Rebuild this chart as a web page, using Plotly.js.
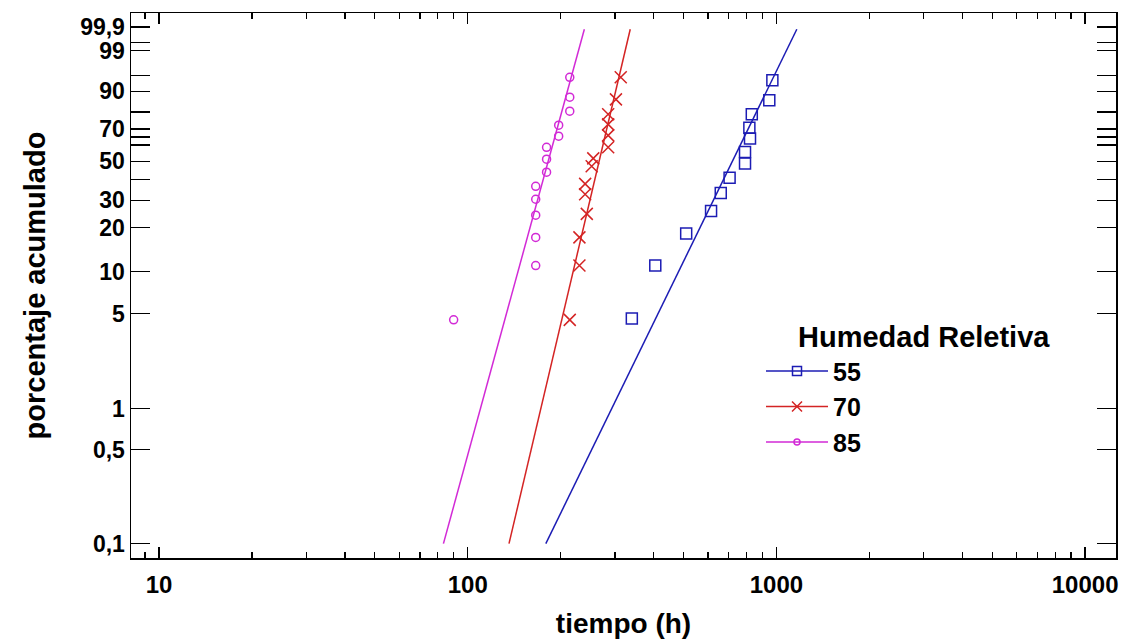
<!DOCTYPE html>
<html>
<head>
<meta charset="utf-8">
<script src="https://cdn.plot.ly/plotly-3.0.1.min.js"></script>
<style>html,body{margin:0;padding:0;background:#fff;}#chart{width:1131px;height:639px;}</style>
</head>
<body>
<div id="chart"></div>
<script>
// ---- data (time in hours, cumulative percent) ----
const series = ['55', '70', '85'];
const time55 = [340, 405, 510, 614, 660, 705, 791, 791, 821, 817, 832, 948, 970];
const pct55  = [4.6, 11.0, 18.3, 25.7, 33.2, 40.7, 48.7, 55.7, 64.1, 70.9, 78.8, 86.1, 93.8];
const time70 = [214, 230, 230, 243, 240, 240, 252, 255, 285, 285, 285, 285, 302, 313];
const pct70  = [4.5, 11.0, 17.2, 24.6, 32.6, 37.6, 47.1, 51.8, 58.6, 66.1, 72.9, 78.8, 86.5, 94.6];
const time85 = [90, 166, 166, 166, 166, 166, 180, 180, 180, 197, 197, 214, 214, 214];
const pct85  = [4.5, 11.0, 17.2, 24.1, 30.4, 36.4, 43.8, 51.3, 58.6, 65.6, 72.4, 80.5, 87.5, 94.6];
// fitted Weibull lines (end points)
const fitTime55 = [179, 1164];
const fitTime70 = [136, 336];
const fitTime85 = [83.4, 238.6];
const fitPct = [0.1, 99.87];
// axis ticks
const yTickPct  = [0.1, 0.5, 1, 5, 10, 20, 30, 40, 50, 60, 65, 70, 80, 90, 95, 99, 99.5, 99.9];
const yTickText = ['0,1', '0,5', '1', '5', '10', '20', '30', '', '50', '', '', '70', '', '90', '', '99', '', '99,9'];
const xTickVals = [10, 100, 1000, 10000];
const xTickText = ['10', '100', '1000', '10000'];
const legendTitle = 'Humedad Reletiva';

// Weibull probability scale: w = ln(-ln(1 - p))
const wb = p => Math.log(-Math.log(1 - p / 100));

const colors = {'55': '#1c1cb4', '70': '#d42424', '85': '#d22ad6'};
const symbols = {'55': 'square-open', '70': 'x-thin-open', '85': 'circle-open'};
const msize = {'55': 11, '70': 12, '85': 8};
const data = {'55': [time55, pct55, fitTime55], '70': [time70, pct70, fitTime70], '85': [time85, pct85, fitTime85]};

const traces = [];
series.forEach(s => {
  const [t, p, ft] = data[s];
  traces.push({x: ft, y: fitPct.map(wb), mode: 'lines', showlegend: false, hoverinfo: 'skip',
    line: {color: colors[s], width: 1.5}});
  traces.push({x: t, y: p.map(wb), mode: 'markers', showlegend: false,
    marker: {symbol: symbols[s], size: msize[s], color: colors[s], line: {color: colors[s], width: 1.5}}});
});
series.forEach(s => {
  traces.push({x: [null], y: [null], mode: 'lines+markers', name: s,
    line: {color: colors[s], width: 1.5},
    marker: {symbol: symbols[s], size: msize[s] - 2, color: colors[s], line: {color: colors[s], width: 1.5}}});
});
// empty trace so that the top (mirror) axis with its minor ticks is drawn
traces.push({x: [null], y: [null], xaxis: 'x2', yaxis: 'y', mode: 'markers', showlegend: false, hoverinfo: 'skip'});

const font = {family: 'Liberation Sans, Arial, sans-serif', color: '#000', weight: 'bold'};
const minorTicks = {ticks: 'inside', ticklen: 6, tickwidth: 1.2, tickcolor: '#000', dtick: 'D1', showgrid: false};
const layout = {
  width: 1131, height: 639,
  margin: {l: 131, r: 15, t: 13, b: 81},
  paper_bgcolor: '#fff', plot_bgcolor: '#fff',
  showlegend: true,
  xaxis: {
    type: 'log', range: [0.909, 4.100],
    tickvals: xTickVals, ticktext: xTickText,
    ticks: 'inside', ticklen: 11, tickwidth: 1.3, tickcolor: '#000',
    minor: minorTicks, ticklabelstandoff: 5,
    showline: true, linecolor: '#000', linewidth: 1.5, mirror: true,
    showgrid: false, zeroline: false,
    tickfont: Object.assign({size: 24}, font),
    title: {text: 'tiempo (h)', font: Object.assign({size: 28}, font), standoff: 18}
  },
  xaxis2: {
    type: 'log', overlaying: 'x', matches: 'x', side: 'top', anchor: 'y',
    tickvals: xTickVals, showticklabels: false,
    ticks: 'inside', ticklen: 11, tickwidth: 1.3, tickcolor: '#000',
    minor: minorTicks, showline: false, showgrid: false, zeroline: false
  },
  yaxis: {
    type: 'linear', range: [-7.153, 2.172],
    tickvals: yTickPct.map(wb), ticktext: yTickText,
    ticks: 'inside', ticklen: 19, tickwidth: 1.3, tickcolor: '#000',
    showline: true, linecolor: '#000', linewidth: 1.5, mirror: 'ticks',
    showgrid: false, zeroline: false,
    tickfont: Object.assign({size: 23}, font),
    title: {text: 'porcentaje acumulado', font: Object.assign({size: 29}, font), standoff: 26}
  },
  legend: {
    x: 0.6396, y: 0.385, xanchor: 'left', yanchor: 'top',
    bgcolor: 'rgba(0,0,0,0)', borderwidth: 0, itemwidth: 62,
    font: Object.assign({size: 25}, font)
  },
  annotations: [{
    text: legendTitle, xref: 'paper', yref: 'paper', x: 0.6751, y: 0.4055,
    xanchor: 'left', yanchor: 'middle', showarrow: false,
    font: Object.assign({size: 29}, font)
  }]
};

Plotly.newPlot('chart', traces, layout, {displayModeBar: false, staticPlot: true});
</script>
</body>
</html>
